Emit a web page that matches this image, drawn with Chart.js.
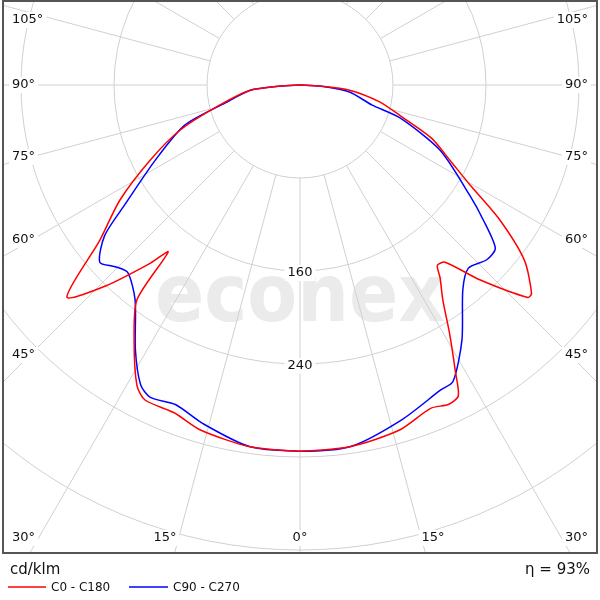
<!DOCTYPE html>
<html>
<head>
<meta charset="utf-8">
<script src="https://cdn.jsdelivr.net/npm/chart.js@4/dist/chart.umd.min.js"></script>
<style>
  html, body { margin: 0; padding: 0; background: #fff; }
  #wrap { width: 600px; height: 600px; }
</style>
</head>
<body>
<div id="wrap"><canvas id="polar"></canvas></div>
<script>
// gamma (deg) / intensity (cd/klm) for each half plane
const gammaC0 = [0, 8, 16, 22, 25, 27, 28.5, 31, 33.6, 36, 37.3, 39.3, 42.7, 47, 48, 52, 56, 59.5, 63.4, 68, 73, 78, 84, 87, 90];
const valC0   = [315, 314, 309, 300, 303, 300, 280, 250, 222, 205, 195, 197, 228, 268, 268, 245, 207, 170, 144, 122, 90, 70, 43, 17, 0];
const gammaC180 = [0, 8, 16, 21, 26.2, 28.5, 33, 37.2, 38.3, 40, 44, 47.7, 52.2, 57.4, 63.4, 69.4, 76, 84, 87, 90];
const valC180   = [315, 314, 309, 302, 302, 294, 262, 232, 183, 200, 240, 271, 218, 184, 144, 110, 71, 43, 17, 0];
const gammaC90 = [0, 8, 16.9, 24.7, 27.3, 32.4, 38.5, 42.6, 46.9, 50.1, 53.6, 57, 65, 71.7, 74.5, 82, 87, 90];
const valC90   = [315, 314, 301, 289, 287, 260, 225, 214, 220, 219, 196, 174, 133, 91, 64, 43, 17, 0];
const gammaC270 = [0, 8, 16, 21.3, 25.6, 28, 31.9, 37.5, 42.6, 45.5, 48.5, 52.4, 55.6, 62.6, 70.8, 76.5, 84, 87, 90];
const valC270   = [315, 314, 303, 295, 298, 292, 268, 233, 219, 223, 230, 212, 183, 140, 105, 66, 43, 17, 0];

const ringValues = [80, 160, 240, 320, 400, 480, 560];
const ringLabels = ['160', '240'];
const sideAngles = [105, 90, 75, 60, 45, 30];
const bottomAngles = [15, 0, 15];

const PX = 93 / 80; // pixels per cd/klm

function toXY(gammas, vals, side) {
  return gammas.map((g, i) => {
    const r = g * Math.PI / 180;
    return { x: side * vals[i] * Math.sin(r), y: -vals[i] * Math.cos(r) };
  });
}
function plane(gL, vL, gR, vR) {
  return toXY(gL, vL, -1).reverse().concat(toXY(gR, vR, 1).slice(1));
}

const gridPlugin = {
  id: 'polarGrid',
  beforeDatasetsDraw(chart) {
    const { ctx, chartArea: a, scales: { x, y } } = chart;
    const cx = x.getPixelForValue(0), cy = y.getPixelForValue(0);
    ctx.save();
    ctx.beginPath();
    ctx.rect(a.left, a.top, a.right - a.left, a.bottom - a.top);
    ctx.clip();
    // watermark
    ctx.fillStyle = '#ebebeb';
    ctx.font = 'bold 80px "DejaVu Sans"';
    ctx.textAlign = 'center';
    ctx.textBaseline = 'middle';
    const w = ctx.measureText('econex').width;
    ctx.translate(300, 300);
    ctx.scale(290 / w, 1);
    ctx.fillText('econex', 0, 0);
    ctx.setTransform(chart.currentDevicePixelRatio, 0, 0, chart.currentDevicePixelRatio, 0, 0);
    ctx.strokeStyle = '#d0d0d0';
    ctx.lineWidth = 1;
    ringValues.forEach(v => {
      ctx.beginPath();
      ctx.arc(cx, cy, v * PX, 0, Math.PI * 2);
      ctx.stroke();
    });
    const r0 = ringValues[0] * PX;
    for (let g = 0; g < 360; g += 15) {
      const t = g * Math.PI / 180;
      ctx.beginPath();
      ctx.moveTo(cx + r0 * Math.sin(t), cy + r0 * Math.cos(t));
      ctx.lineTo(cx + 900 * Math.sin(t), cy + 900 * Math.cos(t));
      ctx.stroke();
    }
    // labels
    ctx.font = '13px "DejaVu Sans"';
    ctx.textBaseline = 'middle';
    const label = (txt, px, py, align) => {
      ctx.textAlign = align;
      const tw = ctx.measureText(txt).width;
      const lx = align === 'left' ? px : align === 'right' ? px - tw : px - tw / 2;
      ctx.fillStyle = '#fff';
      ctx.fillRect(lx - 3, py - 8, tw + 6, 16);
      ctx.fillStyle = '#111';
      ctx.fillText(txt, px, py);
    };
    ringLabels.forEach(t => label(t, cx, cy + Number(t) * PX + 2, 'center'));
    const sideY = { 105: 20, 90: 85, 75: 157, 60: 240, 45: 355, 30: 538 };
    sideAngles.forEach(g => {
      label(g + '°', 12, sideY[g], 'left');
      label(g + '°', 588, sideY[g], 'right');
    });
    [165, 300, 433].forEach((px, i) => label(bottomAngles[i] + '°', px, 538, 'center'));
    ctx.restore();
  },
  afterDraw(chart) {
    const { ctx, chartArea: a } = chart;
    ctx.save();
    ctx.strokeStyle = '#555';
    ctx.lineWidth = 2;
    ctx.strokeRect(a.left, a.top, a.right - a.left, a.bottom - a.top);
    ctx.fillStyle = '#111';
    ctx.textBaseline = 'middle';
    ctx.font = '15px "DejaVu Sans"';
    ctx.textAlign = 'left';
    ctx.fillText('cd/klm', 10, 570);
    ctx.textAlign = 'right';
    ctx.fillText('η = 93%', 590, 570);
    ctx.font = '12px "DejaVu Sans"';
    ctx.textAlign = 'left';
    ctx.lineWidth = 1.5;
    ctx.strokeStyle = '#f00';
    ctx.beginPath(); ctx.moveTo(8, 587); ctx.lineTo(46, 587); ctx.stroke();
    ctx.fillText('C0 - C180', 51, 588);
    ctx.strokeStyle = '#00f';
    ctx.beginPath(); ctx.moveTo(129, 587); ctx.lineTo(168, 587); ctx.stroke();
    ctx.fillText('C90 - C270', 173, 588);
    ctx.restore();
  }
};

new Chart(document.getElementById('polar'), {
  type: 'scatter',
  data: {
    datasets: [
      { label: 'C0 - C180', data: plane(gammaC180, valC180, gammaC0, valC0), borderColor: '#f00' },
      { label: 'C90 - C270', data: plane(gammaC270, valC270, gammaC90, valC90), borderColor: '#00f' }
    ].map(d => Object.assign(d, { showLine: true, pointRadius: 0, borderWidth: 1.5, tension: 0.25, fill: false }))
  },
  options: {
    responsive: true,
    maintainAspectRatio: false,
    animation: false,
    layout: { padding: { left: 3, right: 3, top: 1, bottom: 47 } },
    plugins: { legend: { display: false }, tooltip: { enabled: false } },
    scales: {
      x: { display: false, min: -297 / PX, max: 297 / PX },
      y: { display: false, min: -468 / PX, max: 84 / PX }
    }
  },
  plugins: [gridPlugin]
});
</script>
</body>
</html>
